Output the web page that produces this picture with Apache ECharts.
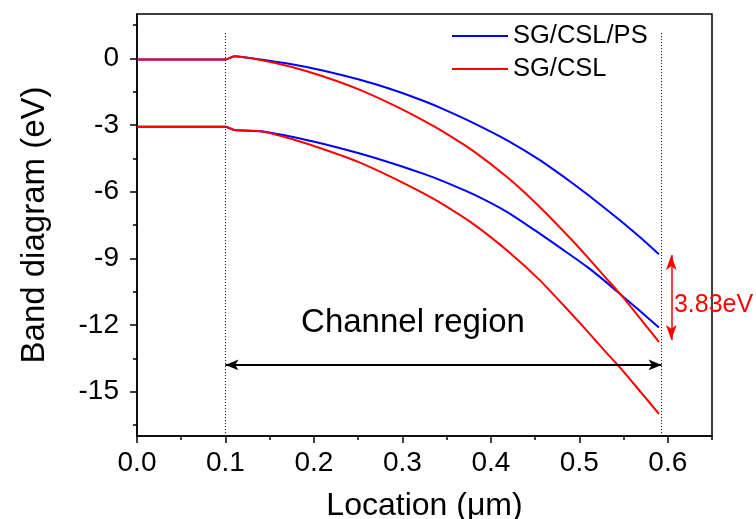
<!DOCTYPE html>
<html>
<head>
<meta charset="utf-8">
<script src="https://cdn.jsdelivr.net/npm/echarts@6/dist/echarts.min.js"></script>
<style>
html, body { margin: 0; padding: 0; background: #fff; }
#chart { width: 756px; height: 519px; }
</style>
</head>
<body>
<div id="chart"></div>
<script>
// location in um, shared by the four band edges
const loc = [0, 0.1, 0.11, 0.14, 0.175, 0.21, 0.25, 0.29, 0.325, 0.345, 0.38, 0.42, 0.455, 0.49, 0.51, 0.53, 0.55, 0.57, 0.59];
// SG/CSL/PS conduction / valence
const psCond = [-0.05, -0.05, 0.1, -0.05, -0.26, -0.54, -0.94, -1.42, -1.93, -2.26, -2.9, -3.72, -4.57, -5.55, -6.15, -6.78, -7.42, -8.1, -8.82];
const psVal = [-3.08, -3.08, -3.22, -3.28, -3.525, -3.84, -4.26, -4.74, -5.21, -5.51, -6.11, -6.95, -7.88, -8.85, -9.42, -10.06, -10.74, -11.42, -12.12];
// SG/CSL conduction / valence
const cslCond = [-0.05, -0.05, 0.1, -0.07, -0.385, -0.805, -1.385, -2.105, -2.82, -3.27, -4.16, -5.40, -6.68, -8.11, -8.98, -9.88, -10.78, -11.77, -12.76];
const cslVal = [-3.08, -3.08, -3.22, -3.28, -3.63, -4.08, -4.66, -5.39, -6.1, -6.55, -7.45, -8.70, -9.97, -11.45, -12.32, -13.22, -14.1, -15.05, -16.0];

const xMajor = [0, 0.1, 0.2, 0.3, 0.4, 0.5, 0.6];
const xMinor = [0.05, 0.15, 0.25, 0.35, 0.45, 0.55, 0.65];
const yMajor = [0, -3, -6, -9, -12, -15];
const yMinor = [1.5, -1.5, -4.5, -7.5, -10.5, -13.5, -16.5];

// channel boundaries, arrow and gap marker
const channelStart = 0.1;
const channelEnd = 0.593;
const channelTop = 1.14;
const arrowY = -13.8;
const gapX = 0.604;
const gapTop = -8.85;
const gapBottom = -12.68;

const font = '"Liberation Sans", Arial, sans-serif';
const pair = ys => loc.map((x, i) => [x, ys[i]]);

const chart = echarts.init(document.getElementById('chart'));

function bandSeries(name, color, ys) {
  return {
    name: name,
    type: 'line',
    data: pair(ys),
    showSymbol: false,
    symbol: 'none',
    smooth: 0.2,
    lineStyle: { color: color, width: 2 },
    itemStyle: { color: color },
    animation: false
  };
}

chart.setOption({
  animation: false,
  textStyle: { fontFamily: font },
  grid: {
    left: 137, right: 44, top: 14, bottom: 83,
    show: true, borderColor: '#000', borderWidth: 1.5,
    containLabel: false,
    outerBoundsMode: 'none'
  },
  legend: {
    orient: 'vertical',
    left: 447,
    top: 18,
    icon: 'rect',
    itemWidth: 56,
    itemHeight: 2,
    itemGap: 7,
    data: ['SG/CSL/PS', 'SG/CSL'],
    textStyle: { fontSize: 25.5, color: '#000', fontFamily: font, lineHeight: 25 }
  },
  xAxis: [{
    type: 'value',
    min: 0, max: 0.65,
    position: 'bottom',
    name: 'Location (\u03bcm)',
    nameLocation: 'middle',
    nameGap: 54,
    nameTextStyle: { fontSize: 32, color: '#000', fontFamily: font },
    axisLine: { onZero: false, lineStyle: { color: '#000', width: 1.5 } },
    axisTick: { customValues: xMajor, length: 7, lineStyle: { color: '#000', width: 1.5 } },
    axisLabel: { customValues: xMajor, formatter: v => v.toFixed(1), fontSize: 28, color: '#000', margin: 13, fontFamily: font },
    splitLine: { show: false }
  }, {
    type: 'value',
    min: 0, max: 0.65,
    position: 'bottom',
    axisLine: { show: false, onZero: false },
    axisTick: { customValues: xMinor, length: 4, lineStyle: { color: '#000', width: 1.5 } },
    axisLabel: { show: false },
    splitLine: { show: false }
  }],
  yAxis: [{
    type: 'value',
    min: -17, max: 2,
    position: 'left',
    name: 'Band diagram (eV)',
    nameLocation: 'middle',
    nameGap: 86,
    nameTextStyle: { fontSize: 33, color: '#000', fontFamily: font },
    axisLine: { onZero: false, lineStyle: { color: '#000', width: 1.5 } },
    axisTick: { customValues: yMajor, length: 7, lineStyle: { color: '#000', width: 1.5 } },
    axisLabel: { customValues: yMajor, formatter: v => String(v), fontSize: 28, color: '#000', margin: 18, fontFamily: font },
    splitLine: { show: false }
  }, {
    type: 'value',
    min: -17, max: 2,
    position: 'left',
    axisLine: { show: false, onZero: false },
    axisTick: { customValues: yMinor, length: 4, lineStyle: { color: '#000', width: 1.5 } },
    axisLabel: { show: false },
    splitLine: { show: false }
  }],
  series: [
    bandSeries('SG/CSL/PS', '#0000ff', psCond),
    bandSeries('SG/CSL/PS', '#0000ff', psVal),
    bandSeries('SG/CSL', '#ff0000', cslCond),
    bandSeries('SG/CSL', '#ff0000', cslVal),
    {
      name: 'annotations',
      type: 'line',
      data: [],
      silent: true,
      clip: false,
      markLine: {
        silent: true,
        animation: false,
        label: { show: false },
        emphasis: { disabled: true },
        data: [
          [{ coord: [channelStart, channelTop], symbol: 'none', lineStyle: { color: '#000', width: 1, type: [1, 2] } },
           { coord: [channelStart, -17], symbol: 'none' }],
          [{ coord: [channelEnd, channelTop], symbol: 'none', lineStyle: { color: '#000', width: 1, type: [1, 2] } },
           { coord: [channelEnd, -17], symbol: 'none' }],
          [{ coord: [channelStart, arrowY], symbol: 'arrow', symbolSize: [8, 13], lineStyle: { color: '#000', width: 2, type: 'solid' } },
           { coord: [channelEnd, arrowY], symbol: 'arrow', symbolSize: [8, 13] }],
          [{ coord: [gapX, gapTop], symbol: 'arrow', symbolSize: [8, 15], lineStyle: { color: '#ff0000', width: 1.5, type: 'solid' }, itemStyle: { color: '#ff0000' } },
           { coord: [gapX, gapBottom], symbol: 'arrow', symbolSize: [8, 15] }]
        ]
      },
      markPoint: {
        silent: true,
        animation: false,
        symbol: 'circle',
        symbolSize: 0,
        data: [
          { coord: [0.312, -11.9], label: { show: true, formatter: 'Channel region', position: 'inside', fontSize: 33, color: '#000', fontFamily: font } },
          { coord: [0.607, -11.1], label: { show: true, formatter: '3.83eV', position: 'right', distance: 0, fontSize: 25, color: '#ff0000', fontFamily: font } }
        ]
      }
    }
  ]
});
</script>
</body>
</html>
